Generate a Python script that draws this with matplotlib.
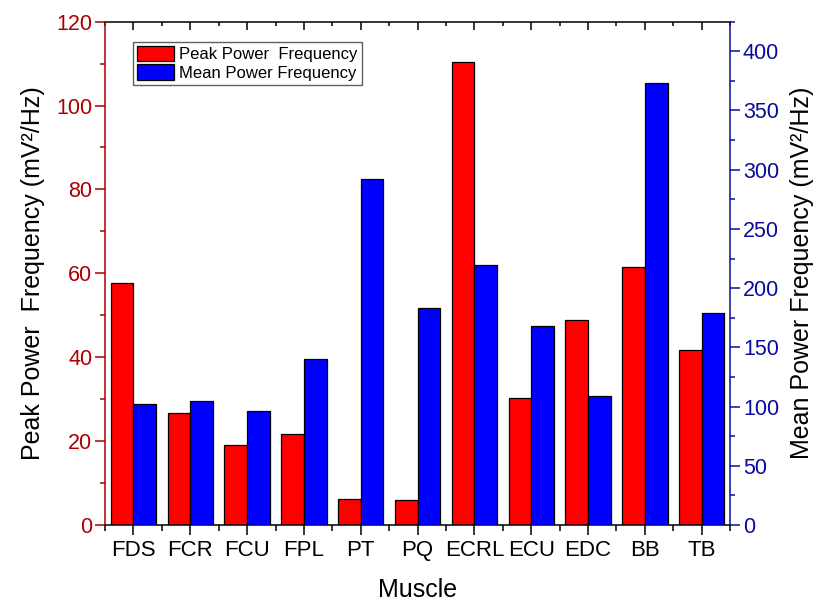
import numpy as np
import matplotlib
matplotlib.use("Agg")
import matplotlib.pyplot as plt
from matplotlib.ticker import MultipleLocator, FixedLocator
from matplotlib.patches import Patch

plt.rcParams['font.family'] = ['Liberation Sans', 'DejaVu Sans']

muscles = ["FDS", "FCR", "FCU", "FPL", "PT", "PQ", "ECRL", "ECU", "EDC", "BB", "TB"]
peak_power_freq = [57.6, 26.8, 19.0, 21.8, 6.2, 6.0, 110.5, 30.3, 48.8, 61.6, 41.6]
mean_power_freq = [102.4, 104.6, 96.2, 139.8, 292.5, 183.2, 219.2, 168.0, 108.5, 373.6, 179.2]

left_color = "#AA0000"
right_color = "#0B0B9B"

fig = plt.figure(figsize=(8.14, 6.02), dpi=100)
ax = fig.add_axes([0.129, 0.128, 0.768, 0.836])
ax2 = ax.twinx()

x = np.arange(len(muscles))
w = 0.4
ax.bar(x - w / 2, peak_power_freq, width=w, color="#FF0000",
       edgecolor="black", linewidth=0.9, zorder=2)
ax2.bar(x + w / 2, mean_power_freq, width=w, color="#0000FF",
        edgecolor="black", linewidth=0.9, zorder=2)

ax.set_xlim(-0.5, len(muscles) - 0.5)
ax.set_ylim(0, 120)
ax2.set_ylim(0, 425)

# x axis: labels under the pair centres, minor ticks between groups
ax.set_xticks(x)
ax.set_xticklabels(muscles, fontsize=16)
ax.xaxis.set_minor_locator(FixedLocator(np.arange(-0.5, len(muscles), 1.0)))
ax.tick_params(axis='x', which='major', direction='out', length=7.2, width=1.1,
               pad=4, colors='black')
ax.tick_params(axis='x', which='minor', direction='out', length=4, width=1.1)

top = ax.secondary_xaxis('top')
top.set_xticks(x)
top.set_xticklabels([])
top.xaxis.set_minor_locator(FixedLocator(np.arange(-0.5, len(muscles), 1.0)))
top.tick_params(axis='x', which='major', direction='in', length=6, width=1.1)
top.tick_params(axis='x', which='minor', direction='in', length=3.2, width=1.1)
top.spines['top'].set_linewidth(1.1)

# left axis
ax.yaxis.set_major_locator(MultipleLocator(20))
ax.yaxis.set_minor_locator(MultipleLocator(10))
ax.tick_params(axis='y', which='major', direction='out', length=7.2, width=1.1,
               colors=left_color, labelsize=15.5, pad=2)
ax.tick_params(axis='y', which='minor', direction='out', length=3.8, width=1.1,
               colors=left_color)
ax.spines['left'].set_color(left_color)
ax.spines['left'].set_linewidth(1.1)
ax.spines['bottom'].set_linewidth(1.1)
ax.spines['right'].set_visible(False)
ax.spines['top'].set_visible(False)
ax.set_ylabel("Peak Power  Frequency (mV²/Hz)", fontsize=18, labelpad=8)
ax.set_xlabel("Muscle", fontsize=18, labelpad=12)

# right axis
ax2.yaxis.set_major_locator(MultipleLocator(50))
ax2.yaxis.set_minor_locator(MultipleLocator(25))
ax2.tick_params(axis='y', which='major', direction='out', length=7.2, width=1.1,
                colors=right_color, labelsize=15.5, pad=2)
ax2.tick_params(axis='y', which='minor', direction='out', length=3.8, width=1.1,
                colors=right_color)
ax2.spines['right'].set_color(right_color)
ax2.spines['right'].set_linewidth(1.1)
ax2.spines['left'].set_visible(False)
ax2.spines['top'].set_visible(False)
ax2.spines['bottom'].set_visible(False)
ax2.set_ylabel("Mean Power Frequency (mV²/Hz)", fontsize=18, labelpad=8)

handles = [Patch(facecolor="#FF0000", edgecolor="black", linewidth=0.9,
                 label="Peak Power  Frequency"),
           Patch(facecolor="#0000FF", edgecolor="black", linewidth=0.9,
                 label="Mean Power Frequency")]
leg = ax2.legend(handles=handles, loc='upper left', bbox_to_anchor=(0.045, 0.96),
                 fontsize=12, frameon=True, fancybox=False, framealpha=1,
                 edgecolor="#606060", borderpad=0.25, labelspacing=0.12,
                 handlelength=2.2, handleheight=1.05, handletextpad=0.3,
                 borderaxespad=0)
leg.get_frame().set_linewidth(1.0)

fig.savefig("out.png", dpi=100)
